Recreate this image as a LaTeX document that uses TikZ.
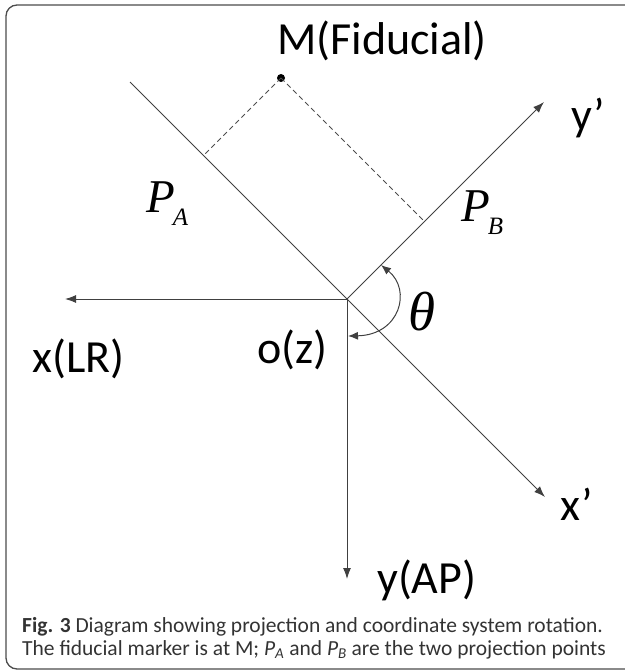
\documentclass[tikz,border=0pt]{standalone}
\usepackage{fontspec}
\setmainfont{Carlito}
\newfontfamily\timesf{Liberation Serif}
\usetikzlibrary{arrows.meta,calc}
\begin{document}
\begin{tikzpicture}[x=1pt,y=-1pt,
  axis/.style={line width=1pt,draw=black!75},
  arr/.style={-{Latex[length=11pt,width=8pt]}},
  proj/.style={line width=0.8pt,draw=black!70,dash pattern=on 5pt off 3.5pt},
  lab/.style={anchor=base west,inner sep=0pt,font=\fontsize{46}{46}\selectfont},
  mth/.style={anchor=base west,inner sep=0pt,font=\timesf\itshape\fontsize{47}{47}\selectfont},
  captext/.style={anchor=base west,inner sep=0pt,text=black!80,font=\fontsize{21.5}{21.5}\selectfont},
  dot/.style={circle,fill=black,inner sep=0pt,minimum size=8pt}]
\useasboundingbox (0,0) rectangle (624,671);
% frame
\draw[line width=1.3pt,black!70,rounded corners=11pt] (6,5) rectangle (680,669);
% key points
\coordinate (O) at (347,299);
\coordinate (S) at (130,82);
\coordinate (Xp) at (545,497);
\coordinate (Yp) at (544,102);
\coordinate (Xl) at (65,299);
\coordinate (Yl) at (347,579);
\node[dot] (M) at (281,78) {};
\coordinate (PA) at ($(S)!(M)!(O)$);
\coordinate (PB) at ($(O)!(M)!(Yp)$);
% axes
\draw[axis] (S) -- (O);
\draw[axis,arr] (O) -- (Xp);
\draw[axis,arr] (O) -- (Yp);
\draw[axis,arr] (O) -- (Xl);
\draw[axis,arr] (O) -- (Yl);
% projections
\draw[proj] (M.center) -- (PA);
\draw[proj] (M.center) -- (PB);
% angle arc
\coordinate (t1) at (348,336);
\coordinate (t2) at (381,265);
\draw[axis,{Latex[length=10pt,width=8pt]}-{Latex[length=10pt,width=8pt]}] (t1) .. controls (400,335) and (412,290) .. (t2);
% labels
\node[lab] (mlab) at (277,55) {M(Fiducial)};
\node[lab] (yplab) at (571,131) {y’};
\node[lab] (xplab) at (560,520) {x’};
\node[lab] (xlr) at (32,372) {x(LR)};
\node[lab] (oz) at (257,363) {o(z)};
\node[lab] (yap) at (377,593) {y(AP)};
\node[mth] (pa) at (146,212) {P\kern-2pt\raisebox{-13pt}{\fontsize{25}{25}\selectfont A}};
\node[mth] (pb) at (461,221) {P\kern-2pt\raisebox{-13pt}{\fontsize{25}{25}\selectfont B}};
\node[anchor=base west,inner sep=0pt,font=\timesf\itshape\fontsize{55}{55}\selectfont] (th) at (408,330) {θ};
% caption
\node[captext] (c1) at (22,632) {\textbf{Fig. 3} Diagram showing projection and coordinate system rotation.};
\node[captext] (c2) at (22,655) {The fiducial marker is at M; \textit{P}\textsubscript{\textit{A}} and \textit{P}\textsubscript{\textit{B}} are the two projection points};
\end{tikzpicture}
\end{document}
